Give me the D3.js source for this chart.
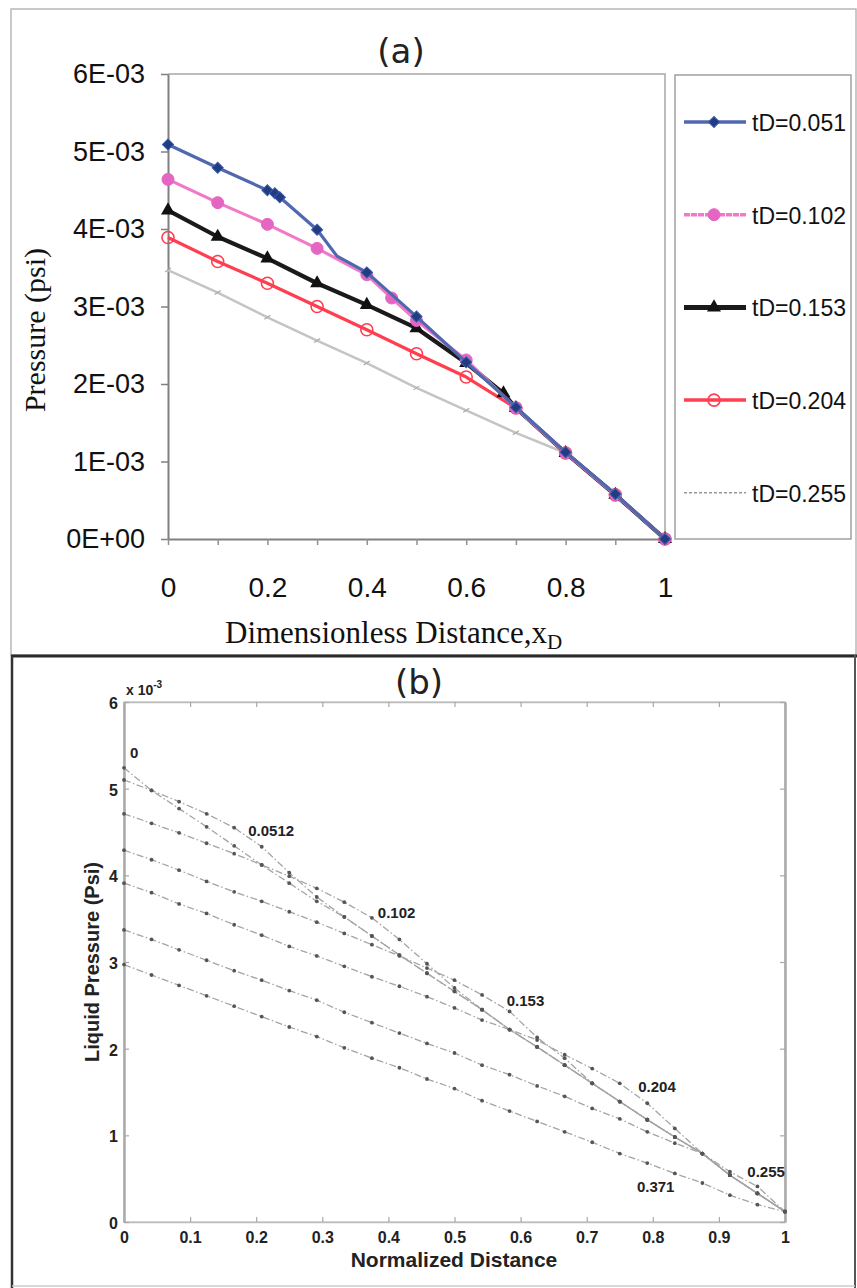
<!DOCTYPE html>
<html><head><meta charset="utf-8">
<script src="https://cdn.jsdelivr.net/npm/d3@7/dist/d3.min.js"></script>
<style>body{margin:0;background:#fff}svg{display:block}</style>
</head><body>
<svg id="c" width="857" height="1288"></svg>
<script>
// ---------------- Panel (a) data ----------------
const legendA = ["tD=0.051", "tD=0.102", "tD=0.153", "tD=0.204", "tD=0.255"];
const a051x = [0, 0.1, 0.2, 0.215, 0.225, 0.3, 0.34, 0.4, 0.5, 0.6, 0.7, 0.8, 0.9, 1];
const a051y = [5.09e-3, 4.79e-3, 4.50e-3, 4.46e-3, 4.41e-3, 3.99e-3, 3.65e-3, 3.44e-3, 2.87e-3, 2.28e-3, 1.70e-3, 1.12e-3, 0.58e-3, 0];
const a051unmarked = [0.34];
const a102x = [0, 0.1, 0.2, 0.3, 0.4, 0.45, 0.5, 0.6, 0.7, 0.8, 0.9, 1];
const a102y = [4.64e-3, 4.34e-3, 4.06e-3, 3.75e-3, 3.41e-3, 3.11e-3, 2.82e-3, 2.31e-3, 1.69e-3, 1.11e-3, 0.57e-3, 0];
const a153x = [0, 0.1, 0.2, 0.3, 0.4, 0.5, 0.6, 0.675, 0.7, 0.8, 0.9, 1];
const a153y = [4.24e-3, 3.90e-3, 3.62e-3, 3.30e-3, 3.02e-3, 2.72e-3, 2.27e-3, 1.88e-3, 1.69e-3, 1.11e-3, 0.57e-3, 0];
const a204x = [0, 0.1, 0.2, 0.3, 0.4, 0.5, 0.6, 0.7, 0.8, 0.9, 1];
const a204y = [3.89e-3, 3.58e-3, 3.30e-3, 3.00e-3, 2.70e-3, 2.39e-3, 2.09e-3, 1.69e-3, 1.11e-3, 0.57e-3, 0];
const a255x = [0, 0.1, 0.2, 0.3, 0.4, 0.5, 0.6, 0.7, 0.8, 0.9, 1];
const a255y = [3.47e-3, 3.18e-3, 2.86e-3, 2.56e-3, 2.27e-3, 1.95e-3, 1.66e-3, 1.37e-3, 1.11e-3, 0.57e-3, 0];
const yTicksA = [0, 0.001, 0.002, 0.003, 0.004, 0.005, 0.006];
const yTickLabelsA = ["0E+00", "1E-03", "2E-03", "3E-03", "4E-03", "5E-03", "6E-03"];
const xTicksA = [0, 0.2, 0.4, 0.6, 0.8, 1];
const xMinorA = [0, 0.1, 0.2, 0.3, 0.4, 0.5, 0.6, 0.7, 0.8, 0.9, 1];

// ---------------- Panel (b) data (units of 1e-3 psi) ----------------
const xB24 = [0, 1/24, 2/24, 3/24, 4/24, 5/24, 6/24, 7/24, 8/24, 9/24, 10/24, 11/24, 12/24,
  13/24, 14/24, 15/24, 16/24, 17/24, 18/24, 19/24, 20/24, 21/24, 22/24, 23/24, 1];
const b0000 = [5.24, 4.98, 4.77, 4.56, 4.34, 4.12, 3.91, 3.70, 3.52, 3.30, 3.08, 2.87, 2.66, 2.45, 2.22, 2.02, 1.81, 1.60, 1.39, 1.18, 0.98, 0.79, 0.54, 0.33, 0.12];
const b0512 = [5.10, 4.98, 4.85, 4.71, 4.55, 4.33, 4.03, 3.75, 3.52, 3.30, 3.08, 2.87, 2.66, 2.45, 2.22, 2.02, 1.81, 1.60, 1.39, 1.18, 0.98, 0.79, 0.54, 0.33, 0.12];
const b102 = [4.71, 4.60, 4.49, 4.37, 4.25, 4.12, 3.99, 3.85, 3.69, 3.51, 3.26, 2.98, 2.70, 2.45, 2.22, 2.02, 1.81, 1.60, 1.39, 1.18, 0.98, 0.79, 0.54, 0.33, 0.12];
const b153 = [4.29, 4.18, 4.06, 3.93, 3.81, 3.70, 3.58, 3.46, 3.33, 3.20, 3.07, 2.93, 2.79, 2.62, 2.43, 2.13, 1.89, 1.60, 1.39, 1.18, 0.98, 0.79, 0.54, 0.33, 0.12];
const b204 = [3.91, 3.80, 3.67, 3.56, 3.43, 3.31, 3.18, 3.07, 2.95, 2.83, 2.72, 2.60, 2.47, 2.33, 2.22, 2.10, 1.93, 1.77, 1.60, 1.37, 1.08, 0.79, 0.54, 0.33, 0.12];
const b255 = [3.37, 3.26, 3.14, 3.02, 2.90, 2.79, 2.67, 2.56, 2.42, 2.30, 2.18, 2.06, 1.95, 1.81, 1.70, 1.57, 1.45, 1.31, 1.19, 1.04, 0.91, 0.79, 0.58, 0.41, 0.12];
const b371 = [2.97, 2.85, 2.73, 2.61, 2.49, 2.37, 2.25, 2.14, 2.01, 1.89, 1.78, 1.65, 1.54, 1.40, 1.28, 1.16, 1.04, 0.92, 0.79, 0.68, 0.56, 0.45, 0.31, 0.20, 0.12];
const labelsB = ["0", "0.0512", "0.102", "0.153", "0.204", "0.255", "0.371"];
const labelXB = [0.009, 0.188, 0.384, 0.579, 0.778, 0.943, 0.776];
const labelYB = [5.35, 4.45, 3.51, 2.49, 1.50, 0.52, 0.35];
const xTicksB = [0, 0.1, 0.2, 0.3, 0.4, 0.5, 0.6, 0.7, 0.8, 0.9, 1];
const xTickLabelsB = ["0", "0.1", "0.2", "0.3", "0.4", "0.5", "0.6", "0.7", "0.8", "0.9", "1"];
const yTicksB = [0, 1, 2, 3, 4, 5, 6];

const svg = d3.select("#c");

// ---------- frames ----------
svg.append("rect").attr("x", 11).attr("y", 9).attr("width", 845).attr("height", 646)
  .attr("fill", "none").attr("stroke", "#b8b8b8").attr("stroke-width", 1.5);
svg.append("line").attr("x1", 11).attr("x2", 857).attr("y1", 656).attr("y2", 656)
  .attr("stroke", "#2a2a2a").attr("stroke-width", 3);
svg.append("line").attr("x1", 12).attr("x2", 12).attr("y1", 655).attr("y2", 1288)
  .attr("stroke", "#333").attr("stroke-width", 2.5);
svg.append("line").attr("x1", 855).attr("x2", 855).attr("y1", 655).attr("y2", 1288)
  .attr("stroke", "#555").attr("stroke-width", 2);
svg.append("line").attr("x1", 12).attr("x2", 855).attr("y1", 1286).attr("y2", 1286)
  .attr("stroke", "#ccc").attr("stroke-width", 1.5);

// ================= Panel (a) =================
const xA = d3.scaleLinear().domain([0, 1]).range([168, 665]);
const yA = d3.scaleLinear().domain([0, 0.006]).range([539, 74]);
const gA = svg.append("g");

gA.append("path").attr("d", `M${xA(0)},${yA(0.006)}H${xA(1)}V${yA(0)}`)
  .attr("fill", "none").attr("stroke", "#a8a8a8").attr("stroke-width", 1.5);

const yAxA = gA.append("g").attr("transform", `translate(${xA(0)},0)`)
  .call(d3.axisLeft(yA).tickValues(yTicksA).tickFormat((d, i) => yTickLabelsA[i]).tickSize(7).tickSizeOuter(0).tickPadding(16));
yAxA.select(".domain").attr("stroke", "#808080").attr("stroke-width", 2);
yAxA.selectAll(".tick line").attr("stroke", "#808080").attr("stroke-width", 1.5);
yAxA.selectAll("text").attr("font-family", "Liberation Sans, Arial, sans-serif").attr("font-size", 27).attr("fill", "#111");

const xAxMinor = gA.append("g").attr("transform", `translate(0,${yA(0)})`)
  .call(d3.axisBottom(xA).tickValues(xMinorA).tickFormat("").tickSize(6).tickSizeOuter(0));
xAxMinor.select(".domain").attr("stroke", "#808080").attr("stroke-width", 2);
xAxMinor.selectAll(".tick line").attr("stroke", "#909090").attr("stroke-width", 1.5);
const xAxA = gA.append("g").attr("transform", `translate(0,${yA(0)})`)
  .call(d3.axisBottom(xA).tickValues(xTicksA).tickFormat(d3.format("~g")).tickSize(0).tickPadding(38));
xAxA.select(".domain").remove();
xAxA.selectAll("text").attr("font-family", "Liberation Sans, Arial, sans-serif").attr("font-size", 28).attr("fill", "#111");

svg.append("text").attr("x", 401).attr("y", 63).attr("text-anchor", "middle")
  .attr("font-family", "DejaVu Sans, sans-serif").attr("font-size", 34).attr("fill", "#222").text("(a)");
svg.append("text").attr("transform", "translate(45,330) rotate(-90)").attr("text-anchor", "middle")
  .attr("font-family", "Liberation Serif, Times New Roman, serif").attr("font-size", 30).attr("fill", "#111")
  .text("Pressure (psi)");
const xlab = svg.append("text").attr("x", 225).attr("y", 643)
  .attr("font-family", "Liberation Serif, Times New Roman, serif").attr("font-size", 31).attr("fill", "#111");
xlab.append("tspan").text("Dimensionless Distance,x");
xlab.append("tspan").attr("font-size", 21).attr("dy", 6).text("D");

const seriesA = [
  {x: a051x, y: a051y, skip: a051unmarked, color: "#5068B0", width: 3.2, marker: "diamond", mfill: "#223c82", mstroke: "#3a5aa8"},
  {x: a102x, y: a102y, skip: [], color: "#F07AC8", width: 3.2, marker: "circle", mfill: "#E466C2", mstroke: "#E466C2"},
  {x: a153x, y: a153y, skip: [], color: "#1a1a1a", width: 4.2, marker: "triangle", mfill: "#111", mstroke: "#111"},
  {x: a204x, y: a204y, skip: [], color: "#FF3E50", width: 3.2, marker: "ocircle", mfill: "none", mstroke: "#FF3E50"},
  {x: a255x, y: a255y, skip: [], color: "#C4C4C4", width: 2.5, marker: "dash", mfill: "none", mstroke: "#aaaaaa"}
];
const lineA = d3.line().x(d => xA(d[0])).y(d => yA(d[1]));

function drawMarker(g, type, cx, cy, s) {
  if (type === "diamond") {
    g.append("path").attr("d", d3.symbol(d3.symbolSquare, 62)()).attr("transform", `translate(${cx},${cy}) rotate(45)`)
      .attr("fill", s.mfill).attr("stroke", s.mstroke).attr("stroke-width", 1);
  } else if (type === "circle") {
    g.append("circle").attr("cx", cx).attr("cy", cy).attr("r", 6).attr("fill", s.mfill).attr("stroke", s.mstroke);
  } else if (type === "triangle") {
    g.append("path").attr("d", d3.symbol(d3.symbolTriangle, 85)()).attr("transform", `translate(${cx},${cy})`)
      .attr("fill", s.mfill);
  } else if (type === "ocircle") {
    g.append("circle").attr("cx", cx).attr("cy", cy).attr("r", 6).attr("fill", "none")
      .attr("stroke", s.mstroke).attr("stroke-width", 1.6);
  } else if (type === "dash") {
    g.append("path").attr("d", `M${cx - 3},${cy + 2}L${cx + 3},${cy - 2}`).attr("stroke", s.mstroke).attr("stroke-width", 1.2);
  }
}

for (let i = seriesA.length - 1; i >= 0; i--) {
  const s = seriesA[i];
  const pts = s.x.map((v, j) => [v, s.y[j]]);
  const g = gA.append("g");
  g.append("path").attr("d", lineA(pts)).attr("fill", "none").attr("stroke", s.color)
    .attr("stroke-width", s.width).attr("stroke-linejoin", "round");
  pts.filter(p => !s.skip.includes(p[0])).forEach(p => drawMarker(g, s.marker, xA(p[0]), yA(p[1]), s));
}

const lg = svg.append("g");
lg.append("rect").attr("x", 675).attr("y", 75).attr("width", 176).attr("height", 464)
  .attr("fill", "none").attr("stroke", "#a0a0a0").attr("stroke-width", 1.5);
legendA.forEach((name, i) => {
  const s = seriesA[i];
  const cy = 122 + i * 92.7;
  const ln = lg.append("line").attr("x1", 684).attr("x2", 746).attr("y1", cy).attr("y2", cy)
    .attr("stroke", s.color).attr("stroke-width", i === 2 ? 5 : (i === 4 ? 1.5 : 3.5));
  if (i === 4) ln.attr("stroke", "#999").attr("stroke-dasharray", "3,2");
  if (i === 1) ln.attr("stroke-dasharray", "6,1");
  if (i !== 4) drawMarker(lg, s.marker, 714, cy, s);
  lg.append("text").attr("x", 752).attr("y", cy + 9).attr("font-family", "Liberation Sans, Arial, sans-serif")
    .attr("font-size", 23).attr("fill", "#111").text(name);
});

// ================= Panel (b) =================
const xB = d3.scaleLinear().domain([0, 1]).range([124, 785]);
const yB = d3.scaleLinear().domain([0, 6]).range([1222, 702]);
const gB = svg.append("g");
const bFont = "Liberation Sans, Arial, sans-serif";

gB.append("rect").attr("x", xB(0)).attr("y", yB(6)).attr("width", xB(1) - xB(0)).attr("height", yB(0) - yB(6))
  .attr("fill", "none").attr("stroke", "#cfcfcf").attr("stroke-width", 1.5);

const bx = gB.append("g").attr("transform", `translate(0,${yB(0)})`)
  .call(d3.axisBottom(xB).tickValues(xTicksB).tickFormat((d, i) => xTickLabelsB[i]).tickSize(-5).tickSizeOuter(0).tickPadding(10));
const bt = gB.append("g").attr("transform", `translate(0,${yB(6)})`)
  .call(d3.axisTop(xB).tickValues(xTicksB).tickFormat("").tickSize(-5).tickSizeOuter(0));
const by = gB.append("g").attr("transform", `translate(${xB(0)},0)`)
  .call(d3.axisLeft(yB).tickValues(yTicksB).tickFormat(d3.format("d")).tickSize(-5).tickSizeOuter(0).tickPadding(6));
const br = gB.append("g").attr("transform", `translate(${xB(1)},0)`)
  .call(d3.axisRight(yB).tickValues(yTicksB).tickFormat("").tickSize(-5).tickSizeOuter(0));
[bx, bt, by, br].forEach(a => {
  a.select(".domain").attr("stroke", "#bdbdbd").attr("stroke-width", 1.5);
  a.selectAll(".tick line").attr("stroke", "#a8a8a8").attr("stroke-width", 1.2);
  a.selectAll("text").attr("font-family", bFont).attr("font-weight", "bold").attr("font-size", 16).attr("fill", "#222");
});
by.select(".domain").attr("stroke", "#aaa").attr("stroke-width", 2.5);
br.select(".domain").attr("stroke", "#aaa").attr("stroke-width", 2.5);
by.selectAll("text").attr("dy", "0.4em");

const sc = gB.append("text").attr("x", 126).attr("y", 695).attr("font-family", bFont)
  .attr("font-weight", "bold").attr("font-size", 14).attr("fill", "#222");
sc.append("tspan").text("x 10");
sc.append("tspan").attr("font-size", 10).attr("dy", -7).text("-3");

svg.append("text").attr("x", 419).attr("y", 694).attr("text-anchor", "middle")
  .attr("font-family", "DejaVu Sans, sans-serif").attr("font-size", 34).attr("fill", "#222").text("(b)");
gB.append("text").attr("transform", "translate(99,962) rotate(-90)").attr("text-anchor", "middle")
  .attr("font-family", bFont).attr("font-weight", "bold").attr("font-size", 20).attr("fill", "#222")
  .text("Liquid Pressure (Psi)");
gB.append("text").attr("x", 454).attr("y", 1267).attr("text-anchor", "middle")
  .attr("font-family", bFont).attr("font-weight", "bold").attr("font-size", 21).attr("fill", "#222")
  .text("Normalized Distance");

const seriesB = [b0000, b0512, b102, b153, b204, b255, b371];
const lineB = d3.line().x(d => xB(d[0])).y(d => yB(d[1]));
seriesB.forEach(vals => {
  const pts = xB24.map((x, j) => [x, vals[j]]);
  gB.append("path").attr("d", lineB(pts)).attr("fill", "none").attr("stroke", "#a4a4a4")
    .attr("stroke-width", 1.3).attr("stroke-dasharray", "7,2.5,1.5,2.5");
});
seriesB.forEach(vals => {
  xB24.forEach((x, j) => {
    gB.append("circle").attr("cx", xB(x)).attr("cy", yB(vals[j])).attr("r", 1.9).attr("fill", "#555");
  });
});
labelsB.forEach((t, i) => {
  gB.append("text").attr("x", xB(labelXB[i])).attr("y", yB(labelYB[i])).attr("font-family", bFont)
    .attr("font-weight", "bold").attr("font-size", 15).attr("fill", "#222").text(t);
});
</script>
</body></html>
